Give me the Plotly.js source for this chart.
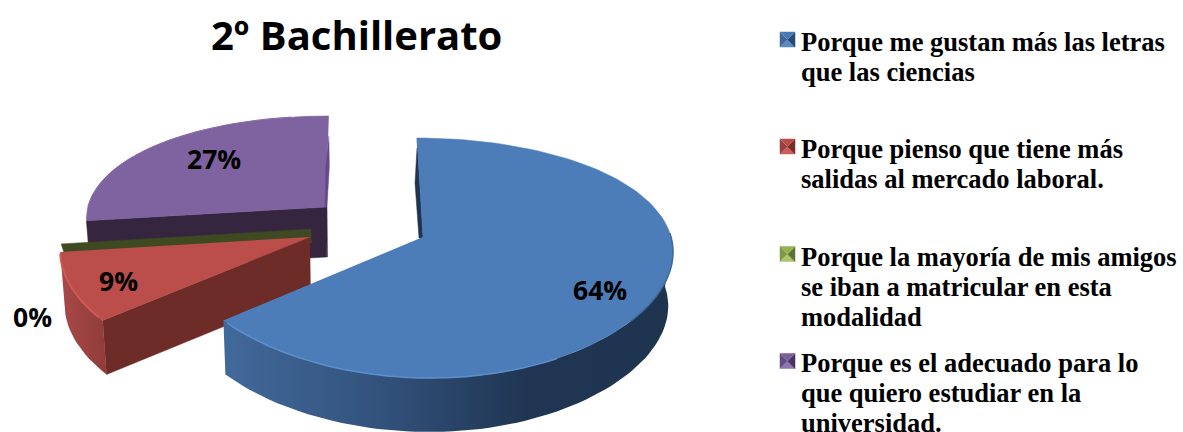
<!DOCTYPE html>
<html><head><meta charset="utf-8">
<script src="https://cdn.plot.ly/plotly-3.0.1.min.js"></script>
<style>html,body{margin:0;padding:0;background:#fff}#c{width:1183px;height:432px}</style>
</head><body><div id="c"></div>
<script>
const titleText = "2º Bachillerato";
const categories = [
  ["Porque me gustan más las letras","que las ciencias"],
  ["Porque pienso que tiene más","salidas al mercado laboral."],
  ["Porque la mayoría de mis amigos","se iban a matricular en esta","modalidad"],
  ["Porque es el adecuado para lo","que quiero estudiar en la","universidad."]
];
const values = [64, 9, 0, 27];
const topColors  = ["#4c7db9","#bb4e4a","#8aa352","#7f62a0"];
const wallColors = ["#1e344f","#6e2c29","#3f4a22","#35253f"];
const apexX = [423, 310, 311, 326];
const apexY = [237, 237, 229, 207];
const scalesX = [1, 1, 1, 0.96];
const scalesY = [1, 1, 1, 0.92];
const depths = [54, 54, 14, 50];
const labelX = [600, 118, 32, 214];
const labelY = [290, 281, 317, 159];
const legendY = [39.5, 146.5, 254, 361];
const legendFirstLine = [42, 149, 257, 363];
const markerShades = [
  ["#4a7ab4","#2b4a70","#5a8ac4","#3f6797"],
  ["#b84d4a","#7a2e2c","#c8605c","#9a3f3c"],
  ["#93b254","#5f7433","#a9c56e","#7d9846"],
  ["#7a5f9b","#453560","#8d74ac","#634b84"]
];

const VX=357, B=248, A=116.3, KX=0.1, KY=0.175, BOT=0.985, STEP=2;
function P(i,deg,down){
  const t=deg*Math.PI/180,u=Math.sin(t),v=-Math.cos(t);
  let x=VX+(apexX[i]+B*scalesX[i]*u-VX)/(1-KX*v);
  let y=apexY[i]+A*scalesY[i]*v/(1-KY*v);
  if(down){x=VX+(x-VX)*BOT;y+=depths[i];}
  return [x,y];
}
function arc(i,a,b,down){
  const o=[];const n=Math.max(1,Math.ceil(Math.abs(b-a)/STEP));
  for(let k=0;k<=n;k++)o.push(P(i,a+(b-a)*k/n,down));
  return o;
}
function poly(pts,color,extra){
  return Object.assign({type:'scatter',mode:'lines',x:pts.map(p=>p[0]),y:pts.map(p=>p[1]),
    fill:'toself',fillcolor:color,line:{width:0.5,color:color},hoverinfo:'skip',showlegend:false},extra||{});
}
function stroke(pts,color,w){
  return {type:'scatter',mode:'lines',x:pts.map(p=>p[0]),y:pts.map(p=>p[1]),
    line:{color:color,width:w,shape:'spline'},hoverinfo:'skip',showlegend:false};
}
const total=values.reduce((a,b)=>a+b,0);
const starts=[],ends=[];let acc=0;
values.forEach(v=>{starts.push(acc/total*360);acc+=v;ends.push(acc/total*360);});
function apex(i,down){
  return down?[VX+(apexX[i]-VX)*BOT,apexY[i]+depths[i]]:[apexX[i],apexY[i]];
}
const traces=[];
function wall(i,deg){
  return [apex(i,false),P(i,deg,false),P(i,deg,true),apex(i,true)];
}
function rimSide(i,a,b){
  return arc(i,a,b,false).concat(arc(i,b,a,true));
}
function topFace(i){
  return [apex(i,false)].concat(arc(i,starts[i],ends[i],false));
}
// purple
traces.push(poly(wall(3,starts[3]),wallColors[3]));
{const a=apex(3,false),ab=apex(3,true);
 traces.push(poly([[a[0]-1,a[1]],[ab[0],ab[1]],[ab[0]+1,ab[1]],[a[0]+1,a[1]]],wallColors[3]));}
traces.push(poly(topFace(3),topColors[3]));
{const r=P(3,360,false),a=apex(3,false);
 traces.push(poly([[r[0],r[1]+20],[r[0]+0.5,r[1]+50],[a[0]+1,a[1]],[a[0]-1,a[1]],[r[0]-3,r[1]+50]],"#65498a"));}
traces.push(stroke(arc(3,270,350,false),"#866aa8",1));
// green
traces.push(poly(wall(2,starts[2]),wallColors[2]));
// red
traces.push(poly(wall(1,starts[1]),wallColors[1]));
traces.push(poly(rimSide(1,starts[1],ends[1]),"#a14542",{line:{width:0},fillgradient:{type:'horizontal',colorscale:[[0,'#a8494a'],[1,'#913c39']]}}));
traces.push(poly(topFace(1),topColors[1]));
traces.push(stroke(arc(1,232,262,false),"#cf5a56",2));
// blue
traces.push(poly(rimSide(0,88,ends[0]),wallColors[0],
  {line:{width:0},fillgradient:{type:'horizontal',colorscale:[[0,'#41699b'],[0.32,'#34547f'],[0.68,'#1f3552'],[1,'#1e344f']]}}));
{const r=P(0,0,false),a=apex(0,false);
 traces.push(poly([r,a,[a[0]-1,a[1]+1],[a[0]-4,a[1]+1],[r[0]-2,r[1]+45],[r[0],r[1]+10]],wallColors[0]));}
traces.push(poly(topFace(0),topColors[0]));
traces.push(stroke(arc(0,152,229,false),"#5e8ecd",1.5));
traces.push(stroke(arc(0,88,130,false),"#41699a",1.5));
// legend swatches
const L=780,R=795,H=7.5;
legendY.forEach((c,i)=>{
  const mx=(L+R)/2,sh=markerShades[i];
  traces.push(poly([[L,c-H],[L,c+H],[mx,c]],sh[3]));
  traces.push(poly([[L,c+H],[R,c+H],[mx,c]],sh[2]));
  traces.push(poly([[R,c-H],[R,c+H],[mx,c]],sh[1]));
  traces.push(poly([[L,c-H],[R,c-H],[mx,c]],sh[0]));
});
const ann=[];
ann.push({x:356,y:34,text:titleText,showarrow:false,xanchor:'center',yanchor:'middle',
  font:{family:'Open Sans',size:40,color:'#000',weight:700}});
values.forEach((v,i)=>{
  ann.push({x:labelX[i],y:labelY[i],text:v+'%',showarrow:false,xanchor:'center',yanchor:'middle',
    font:{family:'Open Sans',size:26.5,color:'#000',weight:700}});
});
categories.forEach((lines,i)=>{
  lines.forEach((t,j)=>{
    ann.push({x:799,y:legendFirstLine[i]+j*30,text:'<b>'+t+'</b>',showarrow:false,xanchor:'left',yanchor:'middle',
      font:{family:'Liberation Serif',size:26.5,color:'#000'}});
  });
});
Plotly.newPlot('c',traces,{
  width:1183,height:432,margin:{l:0,r:0,t:0,b:0},paper_bgcolor:'#fff',plot_bgcolor:'#fff',showlegend:false,
  xaxis:{range:[0,1183],visible:false,fixedrange:true},
  yaxis:{range:[432,0],visible:false,fixedrange:true},
  annotations:ann
},{displayModeBar:false,staticPlot:true});
</script></body></html>
